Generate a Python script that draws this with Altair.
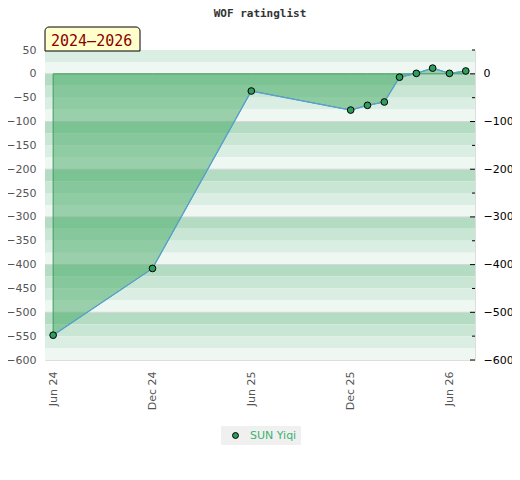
import altair as alt
import pandas as pd

# ---- data ----
dates = ["2024-06-01", "2024-12-01", "2025-06-01", "2025-12-01", "2026-01-01",
         "2026-02-01", "2026-03-01", "2026-04-01", "2026-05-01", "2026-06-01",
         "2026-07-01"]
ratings = [-548, -408, -36, -76, -66, -59, -7, 1, 12, 1, 6]
player = "SUN Yiqi"
title_text = "WOF ratinglist"
period_label = "2024–2026"
x_tick_dates = ["2024-06-01", "2024-12-01", "2025-06-01", "2025-12-01", "2026-06-01"]
left_tick_values = [50, 0, -50, -100, -150, -200, -250, -300, -350, -400,
                    -450, -500, -550, -600]
right_label_values = [0, -100, -200, -300, -400, -500, -600]
right_minor_values = [50, -50, -150, -250, -350, -450, -550]
grid_values = [0, -100, -200, -300, -400, -500]
band_colors = ["#b3dcc3", "#c9e6d5", "#dbeee3", "#eef7f2"]  # 0..-25, -25..-50, -50..-75, -75..-100

W, H = 430, 310


def dt(s):
    y, m, d = (int(p) for p in s.split("-"))
    return alt.DateTime(year=y, month=m, date=d)


df = pd.DataFrame({
    "date": [d + "T00:00:00" for d in dates],
    "rating": ratings,
    "player": [player] * len(dates),
})

# background bands (25 units each)
band_rows = []
top = 50
while top > -600:
    idx = ((-top) % 100) // 25
    band_rows.append({"top": top, "bottom": top - 25, "c": band_colors[idx]})
    top -= 25
bands_df = pd.DataFrame(band_rows)

yscale = alt.Scale(domain=[-600, 50], nice=False, zero=False)
xscale = alt.Scale(domain=[alt.DateTime(year=2024, month=5, date=17),
                           alt.DateTime(year=2026, month=7, date=18)])

left_axis = alt.Axis(orient="left", values=left_tick_values, ticks=False, domain=False,
                     grid=False, labelColor="#555555", labelFontSize=11,
                     labelFont="DejaVu Sans", labelPadding=9, title=None)
right_axis = alt.Axis(orient="right", values=right_label_values, ticks=False, domain=False,
                      grid=False, labelColor="black", labelFontSize=11,
                      labelFont="DejaVu Sans", labelPadding=8, title=None)
x_axis = alt.Axis(orient="bottom", values=[dt(s) for s in x_tick_dates], format="%b %y",
                  labelAngle=270, ticks=False, domain=False, grid=False,
                  labelColor="#555555", labelFontSize=11, labelFont="DejaVu Sans",
                  labelPadding=11, title=None)

bands = alt.Chart(bands_df).mark_rect().encode(
    y=alt.Y("top:Q", scale=yscale, axis=left_axis),
    y2="bottom:Q",
    x=alt.value(0), x2=alt.value(W),
    color=alt.Color("c:N", scale=None),
)

grid = alt.Chart(pd.DataFrame({"v": grid_values})).mark_rule(
    color="#d6d6d6", strokeWidth=1
).encode(
    y=alt.Y("v:Q", scale=yscale, axis=None),
    x=alt.value(0), x2=alt.value(W),
)

major_ticks = alt.Chart(pd.DataFrame({"v": right_label_values})).mark_rule(
    color="black", strokeWidth=1
).encode(
    y=alt.Y("v:Q", scale=yscale, axis=right_axis),
    x=alt.value(W - 5), x2=alt.value(W),
)
minor_ticks = alt.Chart(pd.DataFrame({"v": right_minor_values})).mark_rule(
    color="black", strokeWidth=1
).encode(
    y=alt.Y("v:Q", scale=yscale, axis=None),
    x=alt.value(W - 3), x2=alt.value(W),
)

area = alt.Chart(df).mark_area(
    fill="#44a964", fillOpacity=0.5, stroke="#3a9e5e", strokeWidth=1
).encode(
    x=alt.X("date:T", scale=xscale, axis=x_axis),
    y=alt.Y("rating:Q", scale=yscale, axis=None),
    y2=alt.datum(0),
)

line = alt.Chart(df).mark_line(color="#5b9fd9", strokeWidth=1.2).encode(
    x=alt.X("date:T", scale=xscale, axis=None),
    y=alt.Y("rating:Q", scale=yscale, axis=None),
)

points = alt.Chart(df).mark_point(
    filled=True, size=45, stroke="black", strokeWidth=1, opacity=1
).encode(
    x=alt.X("date:T", scale=xscale, axis=None),
    y=alt.Y("rating:Q", scale=yscale, axis=None),
    color=alt.Color("player:N", scale=alt.Scale(range=["#2e9e5a"]),
                    legend=alt.Legend(title=None, orient="none", legendX=176, legendY=376,
                                      fillColor="#f0f0f0", padding=4, symbolType="circle",
                                      symbolSize=35, symbolStrokeColor="black",
                                      symbolStrokeWidth=1, labelColor="#3cb371",
                                      labelFontSize=11, labelFont="DejaVu Sans",
                                      symbolOffset=5, labelOffset=9)),
)

label_df = pd.DataFrame({"label": [period_label]})
label_box = alt.Chart(label_df).mark_rect(
    fill="#ffffcc", stroke="black", strokeWidth=1,
    cornerRadiusTopLeft=4, cornerRadiusTopRight=4
).encode(
    x=alt.value(0), x2=alt.value(95), y=alt.value(-23), y2=alt.value(1),
)
label_text = alt.Chart(label_df).mark_text(
    font="DejaVu Sans Mono", fontSize=15, color="#8b0000", align="left", baseline="alphabetic"
).encode(
    x=alt.value(6), y=alt.value(-4), text="label:N",
)

chart = alt.layer(
    bands, grid, major_ticks, minor_ticks, area, line, points, label_box, label_text
).resolve_axis(x="independent", y="independent").properties(
    width=W, height=H,
    title=alt.TitleParams(title_text, font="DejaVu Sans Mono", fontSize=11, fontWeight="bold",
                          color="#333333", anchor="middle", offset=8),
    autosize=alt.AutoSizeParams(type="none"),
    padding={"left": 37, "top": 42, "right": 37, "bottom": 110},
).configure_view(stroke="#dddddd", strokeWidth=1)

chart.save("out.html", embed_options={"renderer": "svg", "actions": False})
